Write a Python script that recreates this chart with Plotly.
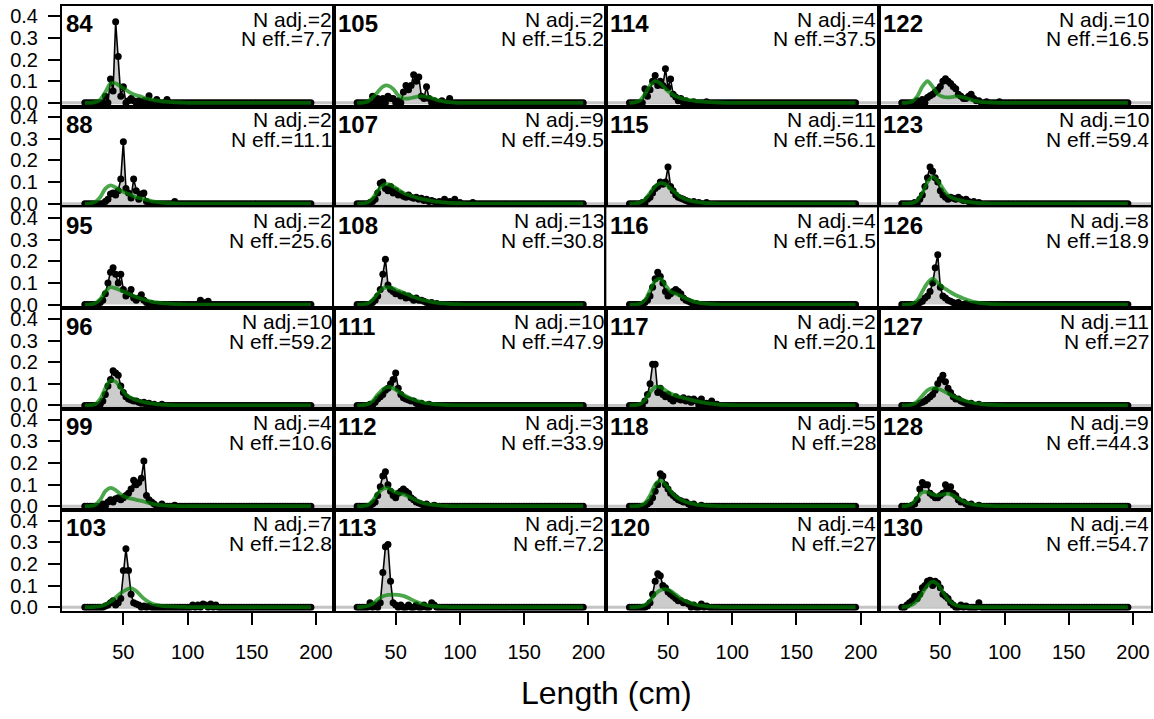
import plotly.graph_objects as go

# ---------------- data ----------------
panel_ids = [84, 88, 95, 96, 99, 103, 105, 107, 108, 111, 112, 113,
             114, 115, 116, 117, 118, 120, 122, 123, 126, 127, 128, 130]
n_adj = [2, 2, 2, 10, 4, 7, 2, 9, 13, 10, 3, 2, 4, 11, 4, 2, 5, 4, 10, 10, 8, 11, 9, 4]
n_eff = ["7.7", "11.1", "25.6", "59.2", "10.6", "12.8", "15.2", "49.5", "30.8", "47.9", "33.9", "7.2",
         "37.5", "56.1", "61.5", "20.1", "28", "27", "16.5", "59.4", "18.9", "27", "44.3", "54.7"]

len_bins = list(range(20, 198, 2))      # observed length bins (cm)
exp_bins = list(range(20, 200, 4))      # expected curve lengths (cm)

# observed proportions (non-zero bins only)
obs_84 = {36: 0.03, 40: 0.11, 42: 0.055, 44: 0.375, 46: 0.215, 48: 0.03, 50: 0.075, 54: 0.01, 56: 0.02,
          58: 0.01, 62: 0.01, 66: 0.01, 70: 0.033, 76: 0.015, 84: 0.015}
obs_88 = {36: 0.01, 38: 0.02, 40: 0.045, 42: 0.05, 44: 0.04, 46: 0.06, 48: 0.114, 50: 0.287, 52: 0.07,
          54: 0.05, 56: 0.026, 58: 0.114, 60: 0.06, 62: 0.02, 64: 0.045, 66: 0.05, 68: 0.01, 90: 0.01}
obs_95 = {32: 0.01, 34: 0.02, 36: 0.05, 38: 0.1, 40: 0.15, 42: 0.17, 44: 0.14, 46: 0.1, 48: 0.14, 50: 0.07,
          52: 0.04, 54: 0.05, 56: 0.07, 58: 0.03, 60: 0.02, 62: 0.03, 64: 0.045, 66: 0.02, 68: 0.01,
          72: 0.005, 110: 0.02, 114: 0.01, 116: 0.015}
obs_96 = {32: 0.005, 34: 0.02, 36: 0.05, 38: 0.09, 40: 0.12, 42: 0.16, 44: 0.15, 46: 0.14, 48: 0.09,
          50: 0.06, 52: 0.04, 54: 0.03, 56: 0.025, 58: 0.02, 60: 0.02, 62: 0.015, 64: 0.01, 66: 0.015,
          70: 0.01, 74: 0.005, 80: 0.005}
obs_99 = {34: 0.01, 38: 0.02, 40: 0.03, 42: 0.02, 44: 0.035, 46: 0.04, 48: 0.03, 50: 0.04, 52: 0.05,
          54: 0.06, 56: 0.08, 58: 0.12, 60: 0.1, 62: 0.11, 64: 0.13, 66: 0.21, 68: 0.05, 70: 0.03,
          72: 0.02, 74: 0.01, 80: 0.01, 90: 0.005}
obs_103 = {36: 0.005, 38: 0.01, 40: 0.02, 42: 0.03, 44: 0.01, 46: 0.02, 48: 0.04, 50: 0.17, 52: 0.27,
           54: 0.17, 56: 0.06, 58: 0.02, 60: 0.015, 62: 0.01, 66: 0.005, 70: 0.005, 104: 0.01, 108: 0.01,
           112: 0.015, 114: 0.01, 118: 0.015, 122: 0.01}
obs_105 = {32: 0.03, 36: 0.02, 40: 0.02, 44: 0.03, 46: 0.02, 48: 0.02, 52: 0.01, 56: 0.05, 58: 0.08,
           60: 0.06, 62: 0.08, 64: 0.13, 66: 0.1, 68: 0.12, 70: 0.03, 72: 0.02, 74: 0.075, 76: 0.02,
           80: 0.01, 86: 0.01, 92: 0.02}
obs_107 = {30: 0.005, 32: 0.01, 34: 0.02, 36: 0.05, 38: 0.095, 40: 0.1, 42: 0.07, 44: 0.06, 46: 0.08,
           48: 0.05, 50: 0.06, 52: 0.04, 54: 0.045, 56: 0.035, 58: 0.03, 60: 0.04, 62: 0.03, 64: 0.025,
           66: 0.03, 68: 0.02, 70: 0.025, 72: 0.015, 74: 0.02, 76: 0.01, 78: 0.015, 80: 0.01, 84: 0.01,
           88: 0.02, 92: 0.01, 96: 0.02, 100: 0.005, 110: 0.005}
obs_108 = {32: 0.01, 34: 0.02, 36: 0.04, 38: 0.07, 40: 0.14, 42: 0.21, 44: 0.09, 46: 0.07, 48: 0.06,
           50: 0.05, 52: 0.05, 54: 0.04, 56: 0.045, 58: 0.03, 60: 0.04, 62: 0.03, 64: 0.02, 66: 0.03,
           68: 0.02, 70: 0.02, 72: 0.015, 74: 0.01, 78: 0.01, 82: 0.005}
obs_111 = {30: 0.005, 34: 0.015, 36: 0.03, 38: 0.04, 40: 0.05, 42: 0.07, 44: 0.08, 46: 0.1, 48: 0.12,
           50: 0.15, 52: 0.08, 54: 0.05, 56: 0.035, 58: 0.03, 60: 0.025, 62: 0.02, 64: 0.02, 66: 0.01,
           70: 0.01, 76: 0.005}
obs_112 = {32: 0.01, 34: 0.02, 36: 0.05, 38: 0.09, 40: 0.14, 42: 0.16, 44: 0.1, 46: 0.07, 48: 0.05,
           50: 0.04, 52: 0.06, 54: 0.07, 56: 0.08, 58: 0.07, 60: 0.06, 62: 0.04, 64: 0.03, 66: 0.02,
           68: 0.015, 70: 0.01, 74: 0.01, 80: 0.005}
obs_113 = {30: 0.02, 34: 0.01, 38: 0.02, 40: 0.16, 42: 0.28, 44: 0.29, 46: 0.12, 48: 0.02, 50: 0.01,
           54: 0.01, 60: 0.01, 66: 0.01, 72: 0.01, 78: 0.02, 80: 0.01}
obs_114 = {32: 0.065, 34: 0.03, 36: 0.06, 38: 0.1, 40: 0.127, 42: 0.08, 44: 0.1, 46: 0.08, 48: 0.158,
           50: 0.07, 52: 0.11, 54: 0.04, 56: 0.027, 58: 0.01, 60: 0.02, 64: 0.01, 70: 0.005, 80: 0.005}
obs_115 = {30: 0.005, 34: 0.02, 36: 0.03, 38: 0.05, 40: 0.07, 42: 0.08, 44: 0.1, 46: 0.09, 48: 0.1,
           50: 0.17, 52: 0.08, 54: 0.06, 56: 0.04, 58: 0.03, 60: 0.025, 62: 0.02, 64: 0.015, 66: 0.01,
           70: 0.01, 74: 0.005, 80: 0.005}
obs_116 = {32: 0.01, 34: 0.02, 36: 0.04, 38: 0.08, 40: 0.12, 42: 0.15, 44: 0.13, 46: 0.1, 48: 0.06,
           50: 0.04, 52: 0.05, 54: 0.06, 56: 0.07, 58: 0.06, 60: 0.05, 62: 0.03, 64: 0.02, 66: 0.015,
           68: 0.01, 72: 0.005}
obs_117 = {32: 0.02, 34: 0.05, 36: 0.1, 38: 0.19, 40: 0.19, 42: 0.06, 44: 0.08, 46: 0.05, 48: 0.04,
           50: 0.05, 52: 0.03, 54: 0.02, 56: 0.04, 58: 0.03, 60: 0.025, 62: 0.035, 64: 0.02, 66: 0.03,
           68: 0.015, 70: 0.03, 72: 0.02, 76: 0.03, 80: 0.01, 84: 0.02, 88: 0.005}
obs_118 = {34: 0.01, 36: 0.02, 38: 0.04, 40: 0.07, 42: 0.1, 44: 0.15, 46: 0.14, 48: 0.1, 50: 0.08,
           52: 0.06, 54: 0.05, 56: 0.04, 58: 0.03, 60: 0.025, 62: 0.02, 64: 0.02, 66: 0.01, 70: 0.01,
           76: 0.005}
obs_120 = {34: 0.005, 36: 0.02, 38: 0.06, 40: 0.12, 42: 0.155, 44: 0.145, 46: 0.1, 48: 0.09, 50: 0.07,
           52: 0.06, 54: 0.05, 56: 0.04, 58: 0.03, 60: 0.03, 62: 0.02, 64: 0.02, 66: 0.015, 70: 0.01,
           76: 0.015, 80: 0.005}
obs_122 = {32: 0.01, 36: 0.015, 40: 0.025, 42: 0.033, 44: 0.04, 46: 0.05, 48: 0.06, 50: 0.076, 52: 0.1,
           54: 0.112, 56: 0.1, 58: 0.09, 60: 0.076, 62: 0.065, 64: 0.04, 66: 0.03, 68: 0.02, 70: 0.02,
           72: 0.03, 74: 0.04, 76: 0.02, 78: 0.01, 80: 0.01, 86: 0.005, 96: 0.005}
obs_123 = {30: 0.005, 34: 0.02, 36: 0.04, 38: 0.08, 40: 0.12, 42: 0.17, 44: 0.15, 46: 0.12, 48: 0.1,
           50: 0.06, 52: 0.04, 54: 0.03, 56: 0.02, 58: 0.03, 60: 0.025, 62: 0.02, 64: 0.03, 66: 0.02,
           68: 0.015, 70: 0.02, 72: 0.01, 76: 0.01, 80: 0.005}
obs_126 = {34: 0.01, 36: 0.015, 38: 0.03, 40: 0.04, 42: 0.06, 44: 0.1, 46: 0.17, 48: 0.23, 50: 0.08,
           52: 0.04, 54: 0.03, 56: 0.02, 58: 0.015, 60: 0.01, 64: 0.01, 70: 0.005}
obs_127 = {34: 0.01, 36: 0.015, 38: 0.02, 40: 0.03, 42: 0.04, 44: 0.05, 46: 0.07, 48: 0.1, 50: 0.12,
           52: 0.14, 54: 0.11, 56: 0.08, 58: 0.06, 60: 0.04, 62: 0.03, 64: 0.03, 66: 0.02, 68: 0.015,
           70: 0.01, 74: 0.01, 80: 0.005}
obs_128 = {28: 0.005, 30: 0.01, 32: 0.03, 34: 0.08, 36: 0.11, 38: 0.1, 40: 0.1, 42: 0.06, 44: 0.05,
           46: 0.04, 48: 0.04, 50: 0.05, 52: 0.06, 54: 0.1, 56: 0.08, 58: 0.09, 60: 0.06, 62: 0.05,
           64: 0.03, 66: 0.02, 68: 0.02, 70: 0.01, 74: 0.01, 80: 0.005}
obs_130 = {24: 0.01, 26: 0.02, 28: 0.03, 30: 0.05, 32: 0.04, 34: 0.06, 36: 0.09, 38: 0.1, 40: 0.12,
           42: 0.125, 44: 0.1, 46: 0.12, 48: 0.11, 50: 0.09, 52: 0.06, 54: 0.05, 56: 0.04, 58: 0.02,
           60: 0.01, 66: 0.01, 70: 0.005, 80: 0.02}

# expected proportions at 20, 24, 28, ... cm (remaining lengths are 0)
exp_84 = [0, 0, 0.003, 0.015, 0.05, 0.09, 0.09, 0.075, 0.06, 0.045, 0.035, 0.028, 0.02, 0.015, 0.01,
          0.007, 0.005, 0.003, 0.002, 0.001]
exp_88 = [0, 0.001, 0.008, 0.03, 0.07, 0.085, 0.075, 0.06, 0.05, 0.04, 0.03, 0.024, 0.018, 0.012,
          0.008, 0.005, 0.003, 0.002, 0.001]
exp_95 = [0, 0.001, 0.006, 0.025, 0.06, 0.08, 0.075, 0.065, 0.055, 0.045, 0.035, 0.027, 0.02, 0.014,
          0.01, 0.007, 0.005, 0.003, 0.002, 0.001]
exp_96 = [0, 0.001, 0.005, 0.03, 0.08, 0.115, 0.11, 0.08, 0.05, 0.035, 0.025, 0.018, 0.013, 0.009,
          0.006, 0.004, 0.002, 0.001]
exp_99 = [0, 0.001, 0.006, 0.03, 0.07, 0.085, 0.075, 0.055, 0.042, 0.035, 0.03, 0.025, 0.018, 0.012,
          0.008, 0.005, 0.003, 0.002, 0.001]
exp_103 = [0, 0, 0.001, 0.004, 0.012, 0.025, 0.045, 0.065, 0.08, 0.088, 0.075, 0.05, 0.03, 0.017,
           0.01, 0.006, 0.004, 0.003, 0.002, 0.001]
exp_105 = [0, 0.001, 0.005, 0.025, 0.05, 0.075, 0.08, 0.065, 0.035, 0.02, 0.02, 0.025, 0.03, 0.03,
           0.025, 0.018, 0.01, 0.006, 0.003, 0.001]
exp_107 = [0, 0.001, 0.005, 0.025, 0.06, 0.085, 0.09, 0.08, 0.065, 0.05, 0.04, 0.032, 0.025, 0.02,
           0.015, 0.011, 0.008, 0.006, 0.004, 0.003, 0.002, 0.001]
exp_108 = [0, 0.001, 0.005, 0.022, 0.05, 0.075, 0.08, 0.075, 0.065, 0.055, 0.045, 0.035, 0.027, 0.02,
           0.015, 0.01, 0.007, 0.005, 0.003, 0.002, 0.001]
exp_111 = [0, 0.001, 0.005, 0.02, 0.05, 0.075, 0.085, 0.08, 0.065, 0.05, 0.037, 0.027, 0.019, 0.013,
           0.009, 0.006, 0.004, 0.002, 0.001]
exp_112 = [0, 0.001, 0.005, 0.025, 0.06, 0.08, 0.085, 0.07, 0.06, 0.055, 0.045, 0.033, 0.022, 0.014,
           0.009, 0.006, 0.004, 0.002, 0.001]
exp_113 = [0, 0.001, 0.005, 0.015, 0.035, 0.05, 0.057, 0.058, 0.057, 0.052, 0.042, 0.03, 0.02, 0.012,
           0.007, 0.004, 0.002, 0.001]
exp_114 = [0, 0.002, 0.01, 0.04, 0.08, 0.1, 0.09, 0.065, 0.045, 0.03, 0.022, 0.016, 0.012, 0.008,
           0.006, 0.004, 0.003, 0.002, 0.001]
exp_115 = [0, 0.001, 0.005, 0.02, 0.05, 0.08, 0.095, 0.09, 0.07, 0.05, 0.03, 0.02, 0.013, 0.008,
           0.005, 0.003, 0.002, 0.001]
exp_116 = [0, 0, 0.004, 0.02, 0.065, 0.11, 0.12, 0.09, 0.06, 0.05, 0.04, 0.028, 0.018, 0.011, 0.007,
           0.004, 0.002, 0.001]
exp_117 = [0, 0.001, 0.005, 0.025, 0.06, 0.085, 0.085, 0.07, 0.055, 0.045, 0.038, 0.032, 0.026, 0.02,
           0.015, 0.011, 0.008, 0.005, 0.003, 0.002, 0.001]
exp_118 = [0, 0, 0.003, 0.015, 0.05, 0.1, 0.12, 0.1, 0.07, 0.045, 0.03, 0.02, 0.013, 0.008, 0.005,
           0.003, 0.002, 0.001]
exp_120 = [0, 0, 0.002, 0.01, 0.03, 0.06, 0.078, 0.083, 0.075, 0.058, 0.04, 0.027, 0.018, 0.011,
           0.007, 0.004, 0.002, 0.001]
exp_122 = [0, 0.001, 0.006, 0.03, 0.075, 0.1, 0.075, 0.04, 0.028, 0.025, 0.028, 0.03, 0.025, 0.018,
           0.01, 0.006, 0.003, 0.002, 0.001]
exp_123 = [0, 0, 0.003, 0.015, 0.05, 0.1, 0.125, 0.105, 0.07, 0.04, 0.025, 0.018, 0.012, 0.008,
           0.005, 0.003, 0.002, 0.001]
exp_126 = [0, 0, 0.004, 0.02, 0.06, 0.1, 0.12, 0.1, 0.08, 0.065, 0.05, 0.038, 0.028, 0.02, 0.013,
           0.008, 0.005, 0.003, 0.002, 0.001]
exp_127 = [0, 0, 0.004, 0.018, 0.045, 0.07, 0.08, 0.078, 0.068, 0.055, 0.043, 0.032, 0.024, 0.017,
           0.012, 0.008, 0.005, 0.003, 0.002, 0.001]
exp_128 = [0, 0.002, 0.012, 0.04, 0.065, 0.065, 0.055, 0.05, 0.055, 0.058, 0.05, 0.035, 0.022, 0.013,
           0.008, 0.005, 0.003, 0.002, 0.001]
exp_130 = [0, 0.002, 0.01, 0.03, 0.065, 0.1, 0.118, 0.105, 0.07, 0.035, 0.015, 0.006, 0.002, 0.001]

observed = [obs_84, obs_88, obs_95, obs_96, obs_99, obs_103, obs_105, obs_107, obs_108, obs_111,
            obs_112, obs_113, obs_114, obs_115, obs_116, obs_117, obs_118, obs_120, obs_122, obs_123,
            obs_126, obs_127, obs_128, obs_130]
expected = [exp_84, exp_88, exp_95, exp_96, exp_99, exp_103, exp_105, exp_107, exp_108, exp_111,
            exp_112, exp_113, exp_114, exp_115, exp_116, exp_117, exp_118, exp_120, exp_122, exp_123,
            exp_126, exp_127, exp_128, exp_130]

x_ticks = [50, 100, 150, 200]
y_ticks = [0, 0.1, 0.2, 0.3, 0.4]
y_tick_text = ["0.0", "0.1", "0.2", "0.3", "0.4"]

# ---------------- layout geometry (pixels) ----------------
W, H = 1154, 719
NROW, NCOL = 6, 4
LEFT, RIGHT = 61.7, 1151.0
TOP, BOTTOM = 5.7, 616.8
col_w = (RIGHT - LEFT) / NCOL
row_h = (BOTTOM - TOP) / NROW
X_RANGE = [2, 214]
Y_RANGE = [-0.017, 0.45]
FONT = "Liberation Sans, Arial, Helvetica, sans-serif"
EXP_COLOR = "rgba(0,128,0,0.7)"

fig = go.Figure()
annotations = []
shapes = []

for i, pid in enumerate(panel_ids):
    col = i // NROW
    row = i % NROW
    n = i + 1
    xa = "x" if n == 1 else f"x{n}"
    ya = "y" if n == 1 else f"y{n}"
    x0p = LEFT + col * col_w
    x1p = x0p + col_w
    y0p = TOP + row * row_h
    y1p = y0p + row_h

    obs_full = [observed[i].get(b, 0.0) for b in len_bins]
    ex = expected[i] + [0.0] * (len(exp_bins) - len(expected[i]))

    fig.add_trace(go.Scatter(
        x=len_bins, y=obs_full, mode="lines+markers", fill="tozeroy",
        fillcolor="#cccccc", line=dict(color="black", width=1.6),
        marker=dict(color="black", size=7), xaxis=xa, yaxis=ya,
        showlegend=False, hoverinfo="skip"))
    fig.add_trace(go.Scatter(
        x=exp_bins, y=ex, mode="lines", line=dict(color=EXP_COLOR, width=3.8, shape="spline", smoothing=0.8),
        xaxis=xa, yaxis=ya, showlegend=False, hoverinfo="skip"))

    xkey = "xaxis" if n == 1 else f"xaxis{n}"
    ykey = "yaxis" if n == 1 else f"yaxis{n}"
    bottom_row = row == NROW - 1
    left_col = col == 0
    fig.layout[xkey] = dict(
        domain=[x0p / W, x1p / W], range=X_RANGE, anchor=ya,
        showgrid=False, zeroline=False, showline=True, mirror=True,
        linecolor="black", linewidth=1.5,
        tickmode="array", tickvals=x_ticks,
        ticks="outside" if bottom_row else "", ticklen=12, tickwidth=1.5, tickcolor="black",
        showticklabels=bottom_row, ticklabelstandoff=10,
        tickfont=dict(family=FONT, size=20, color="black"), fixedrange=True)
    fig.layout[ykey] = dict(
        domain=[1 - y1p / H, 1 - y0p / H], range=Y_RANGE, anchor=xa,
        showgrid=False, zeroline=False, showline=True, mirror=True,
        linecolor="black", linewidth=1.5,
        tickmode="array", tickvals=y_ticks, ticktext=y_tick_text,
        ticks="outside" if left_col else "", ticklen=12, tickwidth=1.5, tickcolor="black",
        showticklabels=left_col, ticklabelstandoff=6,
        tickfont=dict(family=FONT, size=20, color="black"), fixedrange=True)

    shapes.append(dict(type="line", xref=f"{xa} domain", yref=ya, x0=0, x1=1, y0=0, y1=0,
                       line=dict(color="#c4c4c4", width=3), layer="below"))

    annotations.append(dict(text=f"<b>{pid}</b>", xref="paper", yref="paper",
                            x=(x0p + 2) / W, y=1 - (y0p + 18) / H, xanchor="left", yanchor="middle",
                            showarrow=False, font=dict(family=FONT, size=24, color="black")))
    annotations.append(dict(text=f"N adj.={n_adj[i]}", xref="paper", yref="paper",
                            x=(x1p - 0.5) / W, y=1 - (y0p + 13.5) / H, xanchor="right", yanchor="middle",
                            showarrow=False, font=dict(family=FONT, size=21, color="black")))
    annotations.append(dict(text=f"N eff.={n_eff[i]}", xref="paper", yref="paper",
                            x=(x1p - 0.5) / W, y=1 - (y0p + 33.5) / H, xanchor="right", yanchor="middle",
                            showarrow=False, font=dict(family=FONT, size=21, color="black")))

annotations.append(dict(text="Length (cm)", xref="paper", yref="paper",
                        x=((LEFT + RIGHT) / 2) / W, y=1 - 700 / H, xanchor="center", yanchor="middle",
                        showarrow=False, font=dict(family=FONT, size=32, color="black")))

fig.update_layout(
    width=W, height=H, margin=dict(l=0, r=0, t=0, b=0),
    paper_bgcolor="white", plot_bgcolor="white",
    annotations=annotations, shapes=shapes,
    font=dict(family=FONT, color="black"))

fig.write_html("out.html", config={"displayModeBar": False},
               post_script="document.body.style.margin='0';document.body.style.overflow='hidden';")
